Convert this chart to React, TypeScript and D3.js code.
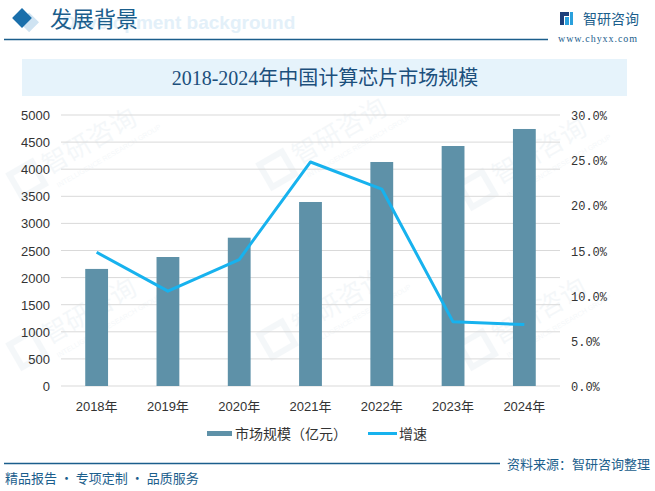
import React from 'react';
import * as d3 from 'd3';

const years = ['2018年', '2019年', '2020年', '2021年', '2022年', '2023年', '2024年'];
const marketSize = [2160, 2380, 2736, 3395, 4133, 4428, 4742];
const growth = [14.8, 10.5, 14.0, 24.8, 21.8, 7.1, 6.8];
const leftTicks = [0, 500, 1000, 1500, 2000, 2500, 3000, 3500, 4000, 4500, 5000];
const rightTicks = [0, 5, 10, 15, 20, 25, 30];

const W = 655;
const H = 491;
const plot = { left: 61, right: 560, top: 115, bottom: 386 };

const barColor = '#5e91a8';
const lineColor = '#17b2ee';
const navy = '#1b5e8c';

// faint company watermark
const Watermark = ({ x, y }: { x: number; y: number }) => (
  <g transform={`translate(${x},${y}) rotate(-30)`} opacity={0.045}>
    <rect x={-40} y={-12} width={26} height={26} fill="none" stroke="#1b5e8c" strokeWidth={6} />
    <text x={-6} y={8} fontSize={26} fontFamily="Noto Sans CJK SC" fill="#1b5e8c">智研咨询</text>
    <text x={-4} y={24} fontSize={7} fontFamily="Liberation Sans" fill="#1b5e8c">INTELLIGENCE RESEARCH GROUP</text>
  </g>
);

export default function App() {
  const x = d3.scaleBand<string>().domain(years).range([plot.left, plot.right]).paddingInner(0.68).paddingOuter(0.34);
  const yL = d3.scaleLinear().domain([0, 5000]).range([plot.bottom, plot.top]);
  const yR = d3.scaleLinear().domain([0, 30]).range([plot.bottom, plot.top]);
  const cx = (d: string) => (x(d) as number) + x.bandwidth() / 2;

  const line = d3.line<number>()
    .x((_, i) => cx(years[i]))
    .y(d => yR(d));

  return (
    <div style={{ position: 'absolute', left: 0, top: 0 }}>
      <svg width={W} height={H} style={{ display: 'block', background: '#fff' }}>
        {/* watermarks */}
        <Watermark x={50} y={165} />
        <Watermark x={300} y={155} />
        <Watermark x={500} y={175} />
        <Watermark x={50} y={335} />
        <Watermark x={300} y={325} />
        <Watermark x={500} y={335} />

        {/* header */}
        <rect x={20} y={9} width={14} height={14} fill="#cfe3f2" transform="rotate(45 27 16) translate(6 3)" />
        <rect x={15} y={11} width={14} height={14} fill="#1a6fab" transform="rotate(45 22 18)" />
        <text x={62} y={29} fontSize={19} fontWeight="bold" fontFamily="Liberation Sans" fill="#e3f0f9">Development background</text>
        <text x={50} y={27} fontSize={22} fontFamily="Noto Sans CJK SC" fill={navy}>发展背景</text>
        <line x1={4} x2={548} y1={39.5} y2={39.5} stroke={navy} strokeWidth={1.5} />
        <g>
          <rect x={560} y={12} width={4} height={13} fill="#1d3f7a" />
          <rect x={564} y={12} width={5} height={4} fill="#1d3f7a" />
          <rect x={565} y={17} width={4} height={8} fill="#2aa0dc" />
          <rect x={570} y={12} width={3} height={13} fill="#2aa0dc" />
        </g>
        <text x={583} y={24} fontSize={14} fontFamily="Noto Sans CJK SC" fill={navy}>智研咨询</text>
        <text x={558} y={42} fontSize={10} fontFamily="Liberation Serif" fill={navy} textLength={79}>www.chyxx.com</text>

        {/* title */}
        <rect x={22} y={59} width={605} height={37} fill="#e6f3fb" />
        <text x={325} y={85} textAnchor="middle" fontSize={20} fontFamily="Liberation Serif, Noto Sans CJK SC" fill="#1b4f7c">2018-2024年中国计算芯片市场规模</text>

        {/* grid */}
        {leftTicks.map(t => (
          <line key={t} x1={plot.left} x2={plot.right} y1={yL(t)} y2={yL(t)} stroke="#d9d9d9" strokeWidth={1} />
        ))}
        {leftTicks.map(t => (
          <text key={'l' + t} x={50} y={yL(t) + 5} textAnchor="end" fontSize={13} fontFamily="Liberation Sans" fill="#333">{t}</text>
        ))}
        {rightTicks.map(t => (
          <text key={'r' + t} x={571} y={yR(t) + 5} fontSize={12} fontFamily="Liberation Mono" fill="#333">{t.toFixed(1) + '%'}</text>
        ))}

        {/* bars */}
        {marketSize.map((v, i) => (
          <rect key={i} x={x(years[i])} y={yL(v)} width={x.bandwidth()} height={plot.bottom - yL(v)} fill={barColor} />
        ))}

        {/* line */}
        <path d={line(growth) || ''} fill="none" stroke={lineColor} strokeWidth={3} strokeLinejoin="round" />

        {/* x labels */}
        {years.map(y => (
          <text key={y} x={cx(y)} y={411} textAnchor="middle" fontSize={13} fontFamily="Liberation Sans, Noto Sans CJK SC" fill="#333">{y}</text>
        ))}

        {/* legend */}
        <rect x={207} y={431} width={25} height={5} fill={barColor} />
        <text x={235} y={439} fontSize={14} fontFamily="Noto Sans CJK SC" fill="#333">市场规模（亿元）</text>
        <line x1={368} x2={397} y1={433.5} y2={433.5} stroke={lineColor} strokeWidth={3} />
        <text x={399} y={439} fontSize={14} fontFamily="Noto Sans CJK SC" fill="#333">增速</text>

        {/* footer */}
        <line x1={4} x2={500} y1={463.5} y2={463.5} stroke={navy} strokeWidth={1.5} />
        <text x={650} y={469} textAnchor="end" fontSize={13} fontFamily="Noto Sans CJK SC" fill={navy}>资料来源：智研咨询整理</text>
        <text x={5} y={483} fontSize={13} fontFamily="Noto Sans CJK SC" fill={navy}>精品报告 · 专项定制 · 品质服务</text>
      </svg>
    </div>
  );
}
